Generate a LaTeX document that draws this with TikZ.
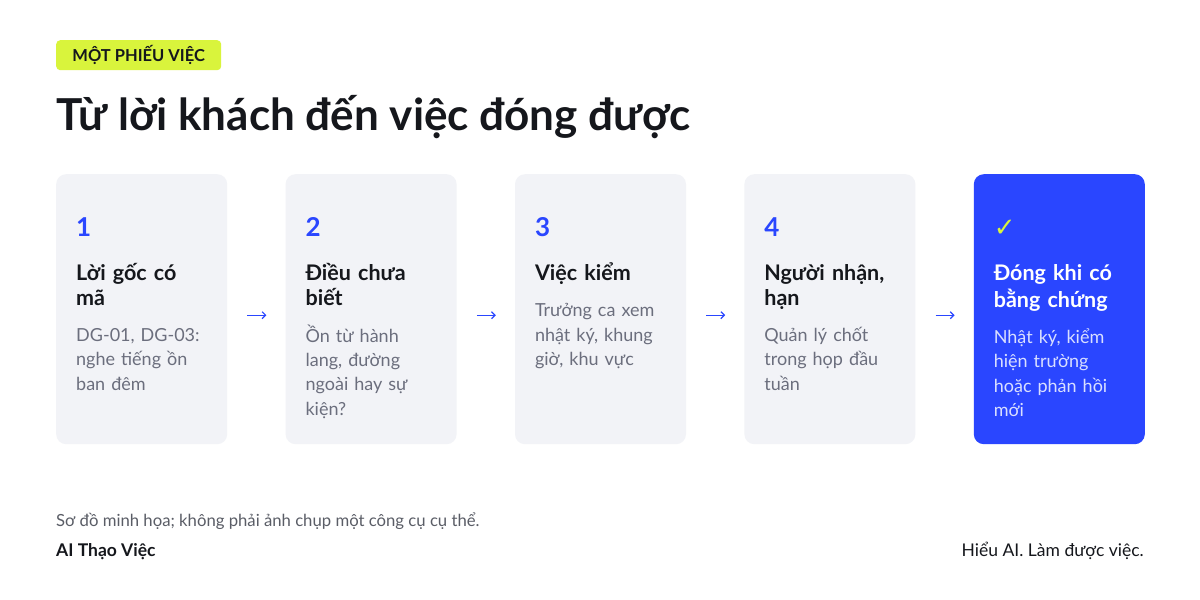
\documentclass[tikz,border=0pt]{standalone}
\usepackage{fontspec}
\setmainfont{Lato}
\newfontfamily\symfont{DejaVu Sans}
\usetikzlibrary{positioning,arrows.meta}

\definecolor{lime}{HTML}{D9F43C}
\definecolor{accent}{HTML}{2A46FF}
\definecolor{cardbg}{HTML}{F2F3F7}
\definecolor{ink}{HTML}{15171C}
\definecolor{muted}{HTML}{6B6E7D}
\definecolor{softwhite}{HTML}{D9DFFF}
\definecolor{footgray}{HTML}{5A5D66}

\tikzset{
  card/.style={rectangle, rounded corners=10pt, fill=cardbg, minimum width=171pt,
               minimum height=270pt, inner sep=0pt},
  donecard/.style={card, fill=accent},
  num/.style={anchor=base west, inner sep=0pt, text=accent,
              font=\fontsize{26}{30}\selectfont\bfseries},
  head/.style={anchor=north west, inner sep=0pt, text width=145pt, align=left, text=ink,
               font=\fontsize{21.5}{25}\selectfont\bfseries},
  body/.style={inner sep=0pt, text width=145pt, align=left, text=muted,
               font=\fontsize{18}{24.3}\selectfont},
  flow/.style={-{Straight Barb[length=3.5pt,width=7pt]}, accent, line width=1.2pt},
}

\begin{document}
\begin{tikzpicture}[x=1pt,y=-1pt]
    \useasboundingbox[fill=white] (0,0) rectangle (1200,600);

    % tag and title
    \node[rectangle, rounded corners=4pt, fill=lime, minimum width=165pt, minimum height=30pt,
          anchor=north west, inner sep=0pt, text=ink, font=\fontsize{16.5}{18}\selectfont\bfseries]
          (tag) at (56,40) {MỘT PHIẾU VIỆC};
    \node[anchor=base west, inner sep=0pt, text=ink, font=\fontsize{44}{50}\selectfont\bfseries]
          (title) at (56,130) {Từ lời khách đến việc đóng được};

    % cards
    \node[card, anchor=north west] (c1) at (56,174) {};
    \node[card]     (c2) [right=58pt of c1] {};
    \node[card]     (c3) [right=58pt of c2] {};
    \node[card]     (c4) [right=58pt of c3] {};
    \node[donecard] (c5) [right=58pt of c4] {};

    % step 1
    \node[num] (n1) at ([shift={(20pt,-62pt)}]c1.north west) {1};
    \node[head] (h1) at ([shift={(20pt,-88.5pt)}]c1.north west) {\strut Lời gốc có\\ mã\strut};
    \node[body, below=11.5pt of h1.south west, anchor=north west] (b1)
          {\strut DG-01, DG-03:\\ nghe tiếng ồn\\ ban đêm};

    % step 2
    \node[num] (n2) at ([shift={(20pt,-62pt)}]c2.north west) {2};
    \node[head] (h2) at ([shift={(20pt,-88.5pt)}]c2.north west) {\strut Điều chưa\\ biết\strut};
    \node[body, below=11.5pt of h2.south west, anchor=north west] (b2)
          {\strut Ồn từ hành\\ lang, đường\\ ngoài hay sự\\ kiện?};

    % step 3
    \node[num] (n3) at ([shift={(20pt,-62pt)}]c3.north west) {3};
    \node[head] (h3) at ([shift={(20pt,-88.5pt)}]c3.north west) {\strut Việc kiểm\strut};
    \node[body, below=11.5pt of h3.south west, anchor=north west] (b3)
          {\strut Trưởng ca xem\\ nhật ký, khung\\ giờ, khu vực};

    % step 4
    \node[num] (n4) at ([shift={(20pt,-62pt)}]c4.north west) {4};
    \node[head] (h4) at ([shift={(20pt,-88.5pt)}]c4.north west) {\strut Người nhận,\\ hạn\strut};
    \node[body, below=11.5pt of h4.south west, anchor=north west] (b4)
          {\strut Quản lý chốt\\ trong họp đầu\\ tuần};

    % done
    \node[num, text=lime, font=\fontsize{26}{30}\selectfont\symfont] (n5)
          at ([shift={(20pt,-62pt)}]c5.north west) {✓};
    \node[head, text=white] (h5) at ([shift={(20pt,-88.5pt)}]c5.north west)
          {\strut Đóng khi có\\ bằng chứng\strut};
    \node[body, text=softwhite, below=11.5pt of h5.south west, anchor=north west] (b5)
          {\strut Nhật ký, kiểm\\ hiện trường\\ hoặc phản hồi\\ mới};

    % arrows between cards
    \draw[flow] ([xshift=20pt,yshift=-6pt]c1.east) -- ([xshift=-19pt,yshift=-6pt]c2.west);
    \draw[flow] ([xshift=20pt,yshift=-6pt]c2.east) -- ([xshift=-19pt,yshift=-6pt]c3.west);
    \draw[flow] ([xshift=20pt,yshift=-6pt]c3.east) -- ([xshift=-19pt,yshift=-6pt]c4.west);
    \draw[flow] ([xshift=20pt,yshift=-6pt]c4.east) -- ([xshift=-19pt,yshift=-6pt]c5.west);

    % footer
    \node[anchor=base west, inner sep=0pt, text=footgray, font=\fontsize{16.7}{19}\selectfont]
          (note) at (56,526) {Sơ đồ minh họa; không phải ảnh chụp một công cụ cụ thể.};
    \node[anchor=base west, inner sep=0pt, text=ink, font=\fontsize{17.5}{20}\selectfont\bfseries]
          (brand) at (56,556) {AI Thạo Việc};
    \node[anchor=base east, inner sep=0pt, text=ink, font=\fontsize{17.5}{20}\selectfont]
          (motto) at (1144,556) {Hiểu AI. Làm được việc.};
\end{tikzpicture}
\end{document}
